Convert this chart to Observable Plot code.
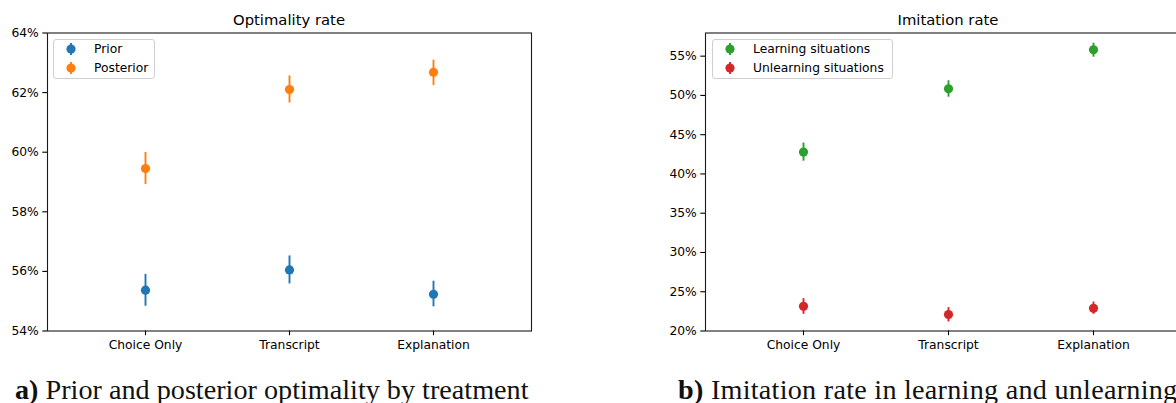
<!DOCTYPE html>
<html>
<head>
<meta charset="utf-8">
<script src="https://cdn.jsdelivr.net/npm/d3@7"></script>
<script src="https://cdn.jsdelivr.net/npm/@observablehq/plot@0.6"></script>
<style>
  html, body { margin: 0; padding: 0; background: #fff; }
  #page { position: relative; width: 1176px; height: 403px; overflow: hidden; background: #fff; }
  .panel { position: absolute; top: 0; }
  .panel svg { max-width: none !important; }
  .title { position: absolute; font-family: "DejaVu Sans", sans-serif; font-size: 14.8px; line-height: 1; color: #000; white-space: nowrap; transform: translateX(-50%); }
  .caption { position: absolute; font-family: "Liberation Serif", serif; font-size: 28.2px; line-height: 28px; color: #111; white-space: nowrap; }
  .caption b { font-weight: bold; }
  .legend { position: absolute; box-sizing: border-box; border: 1px solid #d0d0d0; border-radius: 3px; background: rgba(255,255,255,0.8);
            font-family: "DejaVu Sans", sans-serif; font-size: 12.3px; color: #000; padding: 0 6px 1px 11px; }
  .legend .row { display: flex; align-items: center; height: 18.7px; white-space: nowrap; }
  .legend svg { margin-right: 17px; flex: none; }
</style>
</head>
<body>
<div id="page"></div>
<script>
// ---------- data ----------
const categories = ["Choice Only", "Transcript", "Explanation"];

// Panel a: Optimality rate (%)
const optimalitySeries = ["Prior", "Posterior"];
const priorMean = [55.37, 56.05, 55.23];
const priorLow  = [54.83, 55.58, 54.81];
const priorHigh = [55.90, 56.52, 55.67];
const posteriorMean = [59.45, 62.10, 62.68];
const posteriorLow  = [58.92, 61.65, 62.24];
const posteriorHigh = [59.99, 62.56, 63.09];
const optimalityTicks = [54, 56, 58, 60, 62, 64];

// Panel b: Imitation rate (%)
const imitationSeries = ["Learning situations", "Unlearning situations"];
const learningMean = [42.78, 50.85, 55.81];
const learningLow  = [41.63, 49.78, 54.87];
const learningHigh = [43.93, 51.87, 56.65];
const unlearningMean = [23.14, 22.09, 22.89];
const unlearningLow  = [22.13, 21.15, 22.13];
const unlearningHigh = [24.12, 22.98, 23.69];
const imitationTicks = [20, 25, 30, 35, 40, 45, 50, 55];

const titles = ["Optimality rate", "Imitation rate"];
const captionLabels = ["a)", "b)"];
const captionTexts = ["Prior and posterior optimality by treatment", "Imitation rate in learning and unlearning"];

const colorsA = ["#1f77b4", "#ff7f0e"];
const colorsB = ["#2ca02c", "#d62728"];

// ---------- build tables ----------
function rows(seriesNames, means, lows, highs) {
  const out = [];
  seriesNames.forEach((s, si) => {
    categories.forEach((c, ci) => {
      out.push({series: s, cat: c, mean: means[si][ci], low: lows[si][ci], high: highs[si][ci]});
    });
  });
  return out;
}
const dataA = rows(optimalitySeries, [priorMean, posteriorMean], [priorLow, posteriorLow], [priorHigh, posteriorHigh]);
const dataB = rows(imitationSeries, [learningMean, unlearningMean], [learningLow, unlearningLow], [learningHigh, unlearningHigh]);

const page = document.getElementById("page");

function makePanel({data, seriesNames, colors, yDomain, yTicks, left, width, marginLeft, marginRight}) {
  const chart = Plot.plot({
    width, height: 360,
    marginLeft, marginRight, marginTop: 32.5, marginBottom: 29.5,
    style: {fontFamily: "DejaVu Sans", fontSize: "12.3px", color: "#000", background: "transparent", overflow: "visible", maxWidth: "none"},
    x: {type: "point", domain: categories, padding: 0.67},
    y: {domain: yDomain},
    color: {domain: seriesNames, range: colors},
    marks: [
      Plot.ruleX(data, {x: "cat", y1: "low", y2: "high", stroke: "series", strokeWidth: 1.9}),
      Plot.dot(data, {x: "cat", y: "mean", fill: "series", r: 4.6}),
      Plot.frame({stroke: "#1a1a1a", strokeWidth: 1.1}),
      Plot.axisY({ticks: yTicks, tickFormat: d => d + "%", tickSize: 4.7, tickPadding: 4, label: null, strokeWidth: 1.1}),
      Plot.axisX({tickSize: 4.7, tickPadding: 5, label: null, strokeWidth: 1.1})
    ]
  });
  chart.style.maxWidth = "none";
  const wrap = document.createElement("div");
  wrap.className = "panel";
  wrap.style.left = left + "px";
  wrap.style.width = width + "px";
  wrap.appendChild(chart);
  page.appendChild(wrap);
}

makePanel({data: dataA, seriesNames: optimalitySeries, colors: colorsA, yDomain: [54, 64], yTicks: optimalityTicks,
           left: 0, width: 560, marginLeft: 47, marginRight: 29});
makePanel({data: dataB, seriesNames: imitationSeries, colors: colorsB, yDomain: [20, 57.95], yTicks: imitationTicks,
           left: 616, width: 600, marginLeft: 89, marginRight: 26});

// titles
[[titles[0], 289], [titles[1], 948]].forEach(([t, cx]) => {
  const d = document.createElement("div");
  d.className = "title";
  d.textContent = t;
  d.style.left = cx + "px";
  d.style.top = "12.5px";
  page.appendChild(d);
});

// legends
function legend(names, colors, left, top, width) {
  const d = document.createElement("div");
  d.className = "legend";
  d.style.left = left + "px";
  d.style.top = top + "px";
  d.style.width = width + "px";
  names.forEach((n, i) => {
    const r = document.createElement("div");
    r.className = "row";
    r.innerHTML = `<svg width="12" height="14" viewBox="0 0 12 14"><line x1="6" x2="6" y1="1" y2="13" stroke="${colors[i]}" stroke-width="1.9"/><circle cx="6" cy="7" r="4.6" fill="${colors[i]}"/></svg><span></span>`;
    r.querySelector("span").textContent = n;
    d.appendChild(r);
  });
  page.appendChild(d);
}
legend(optimalitySeries, colorsA, 53, 39, 102);
legend(imitationSeries, colorsB, 712, 39, 181);

// captions
[[0, 15, 0], [1, 678, 0.25]].forEach(([i, x, ls]) => {
  const d = document.createElement("div");
  d.className = "caption";
  d.innerHTML = `<b></b> <span></span>`;
  d.querySelector("b").textContent = captionLabels[i];
  d.querySelector("span").textContent = captionTexts[i];
  d.style.left = x + "px";
  d.style.top = "376px";
  d.style.letterSpacing = ls + "px";
  page.appendChild(d);
});
</script>
</body>
</html>
